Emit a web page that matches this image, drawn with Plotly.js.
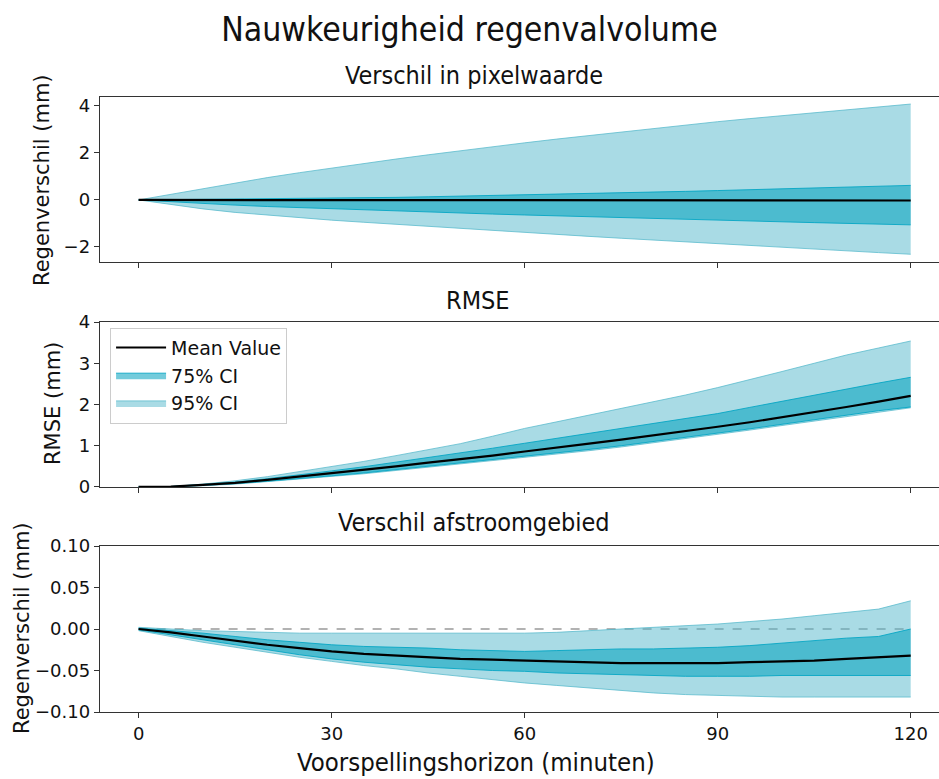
<!DOCTYPE html>
<html><head><meta charset="utf-8">
<script src="https://cdn.plot.ly/plotly-3.0.1.min.js"></script>
<style>body{margin:0;padding:0;overflow:hidden;background:#fff}</style>
</head><body><div id="chart" style="width:939px;height:779px"></div>
<script>
const minutes = [0,5,10,15,20,25,30,35,40,45,50,55,60,65,70,75,80,85,90,95,100,105,110,115,120];

// Panel 1: Verschil in pixelwaarde
const pix_mean = [0,-0.001,-0.002,-0.003,-0.004,-0.005,-0.006,-0.007,-0.008,-0.009,-0.010,-0.011,-0.012,-0.013,-0.014,-0.015,-0.016,-0.017,-0.018,-0.019,-0.020,-0.021,-0.022,-0.023,-0.024];
const pix_hi95 = [0,0.24,0.48,0.72,0.95,1.16,1.36,1.55,1.74,1.92,2.1,2.27,2.43,2.59,2.74,2.9,3.04,3.19,3.33,3.46,3.59,3.72,3.84,3.96,4.08];
const pix_lo95 = [0,-0.2,-0.38,-0.53,-0.65,-0.76,-0.86,-0.95,-1.04,-1.13,-1.22,-1.3,-1.38,-1.47,-1.55,-1.63,-1.71,-1.79,-1.87,-1.95,-2.03,-2.1,-2.17,-2.24,-2.31];
const pix_hi75 = [0,0.01,0.02,0.03,0.04,0.055,0.07,0.09,0.11,0.135,0.16,0.185,0.21,0.24,0.27,0.3,0.33,0.365,0.4,0.435,0.47,0.51,0.55,0.585,0.62];
const pix_lo75 = [0,-0.08,-0.15,-0.22,-0.28,-0.33,-0.38,-0.425,-0.47,-0.515,-0.56,-0.6,-0.64,-0.68,-0.72,-0.755,-0.79,-0.825,-0.86,-0.895,-0.93,-0.965,-1.0,-1.03,-1.06];

// Panel 2: RMSE
const rmse_mean = [0,0.01,0.05,0.1,0.17,0.25,0.33,0.41,0.5,0.59,0.67,0.76,0.86,0.95,1.05,1.15,1.25,1.36,1.46,1.57,1.69,1.81,1.94,2.07,2.21];
const rmse_hi95 = [0,0.01,0.07,0.15,0.25,0.37,0.49,0.62,0.76,0.9,1.05,1.23,1.42,1.58,1.74,1.9,2.06,2.23,2.41,2.6,2.8,3.0,3.2,3.37,3.54];
const rmse_lo95 = [0,0,0.03,0.07,0.13,0.19,0.25,0.32,0.4,0.48,0.56,0.63,0.71,0.79,0.88,0.97,1.07,1.17,1.27,1.38,1.49,1.6,1.71,1.82,1.92];
const rmse_hi75 = [0,0.01,0.06,0.12,0.2,0.29,0.39,0.49,0.6,0.71,0.82,0.94,1.06,1.18,1.3,1.42,1.54,1.66,1.78,1.93,2.08,2.23,2.38,2.52,2.66];
const rmse_lo75 = [0,0.01,0.04,0.08,0.14,0.2,0.27,0.34,0.42,0.5,0.58,0.66,0.74,0.82,0.91,1.0,1.1,1.2,1.3,1.41,1.52,1.63,1.74,1.85,1.94];

// Panel 3: Verschil afstroomgebied
const afs_mean = [0,-0.004,-0.009,-0.014,-0.019,-0.023,-0.027,-0.030,-0.032,-0.034,-0.036,-0.037,-0.038,-0.039,-0.040,-0.041,-0.041,-0.041,-0.041,-0.040,-0.039,-0.038,-0.036,-0.034,-0.032];
const afs_hi95 = [0.002,0,-0.002,-0.003,-0.004,-0.005,-0.005,-0.005,-0.005,-0.005,-0.005,-0.005,-0.005,-0.004,-0.002,0,0.002,0.004,0.006,0.009,0.012,0.016,0.02,0.024,0.034];
const afs_lo95 = [-0.002,-0.009,-0.016,-0.022,-0.028,-0.034,-0.039,-0.044,-0.048,-0.053,-0.057,-0.061,-0.065,-0.068,-0.071,-0.074,-0.077,-0.079,-0.080,-0.081,-0.082,-0.082,-0.082,-0.082,-0.082];
const afs_hi75 = [0.001,-0.002,-0.005,-0.009,-0.013,-0.016,-0.019,-0.021,-0.022,-0.023,-0.025,-0.026,-0.027,-0.026,-0.025,-0.024,-0.024,-0.023,-0.022,-0.020,-0.017,-0.014,-0.011,-0.009,0.0];
const afs_lo75 = [-0.001,-0.007,-0.013,-0.019,-0.025,-0.031,-0.036,-0.040,-0.043,-0.046,-0.048,-0.050,-0.051,-0.053,-0.054,-0.055,-0.056,-0.057,-0.057,-0.057,-0.056,-0.056,-0.056,-0.056,-0.056];

const zeroLine = minutes.map(() => 0);

const C95 = 'rgba(84,184,203,0.5)', E95 = 'rgba(84,184,203,0.75)';
const C75 = 'rgba(0,160,190,0.55)', E75 = 'rgba(0,165,195,0.85)';
const FONT = 'DejaVu Sans';
const TFONT = 'DejaVu Sans Condensed, DejaVu Sans';

function band(lo, hi, ya, fill, edge, name, show, rank){
  return [
    {x:minutes, y:lo, xaxis:'x', yaxis:ya, mode:'lines', line:{color:edge,width:1}, showlegend:false, hoverinfo:'skip', legendgroup:name},
    {x:minutes, y:hi, xaxis:'x', yaxis:ya, mode:'lines', line:{color:edge,width:1}, fill:'tonexty', fillcolor:fill, name:name, showlegend:show, legendgroup:name, legendrank:rank}
  ];
}
function meanTrace(y, ya, show){
  return {x:minutes, y:y, xaxis:'x', yaxis:ya, mode:'lines', line:{color:'#000',width:2.2}, name:'Mean Value', showlegend:show, legendgroup:'mean', legendrank:1};
}

const traces = [
  ...band(pix_lo95, pix_hi95, 'y', C95, E95, '95% CI', false, 3),
  ...band(pix_lo75, pix_hi75, 'y', C75, E75, '75% CI', false, 2),
  meanTrace(pix_mean, 'y', false),
  ...band(rmse_lo95, rmse_hi95, 'y2', C95, E95, '95% CI', true, 3),
  ...band(rmse_lo75, rmse_hi75, 'y2', C75, E75, '75% CI', true, 2),
  meanTrace(rmse_mean, 'y2', true),
  {x:minutes, y:zeroLine, xaxis:'x', yaxis:'y3', mode:'lines', line:{color:'#999',width:1.6,dash:'dash'}, showlegend:false, hoverinfo:'skip'},
  ...band(afs_lo95, afs_hi95, 'y3', C95, E95, '95% CI', false, 3),
  ...band(afs_lo75, afs_hi75, 'y3', C75, E75, '75% CI', false, 2),
  meanTrace(afs_mean, 'y3', false),
];

const axCommon = {showline:true, linecolor:'#333', linewidth:1.3, mirror:true, ticks:'outside', ticklen:5, tickcolor:'#333', showgrid:false, zeroline:false, tickfont:{family:FONT,size:18,color:'#111'}};
const xTicks = [0,30,60,90,120];

const layout = {
  width:939, height:779,
  margin:{l:100, r:0, t:97, b:67},
  paper_bgcolor:'#fff', plot_bgcolor:'#fff',
  font:{family:FONT, color:'#111'},
  showlegend:true,
  legend:{x:0.012, y:0.625, xanchor:'left', yanchor:'top', bgcolor:'#fff', bordercolor:'#ccc', borderwidth:1, font:{family:FONT,size:19,color:'#111'}, traceorder:'grouped', tracegroupgap:0, itemwidth:50},
  title:{text:'Nauwkeurigheid regenvalvolume', font:{family:TFONT,size:33.5,color:'#111'}, x:0.5, xanchor:'center', y:0.962, yanchor:'middle'},
  xaxis:{...axCommon, range:[-6,124.4], tickvals:xTicks, ticktext:xTicks.map(String), anchor:'y3'},
  xaxis2:{...axCommon, range:[-6,124.4], tickvals:xTicks, showticklabels:false, anchor:'y', overlaying:'x'},
  xaxis3:{...axCommon, range:[-6,124.4], tickvals:xTicks, showticklabels:false, anchor:'y2', overlaying:'x'},
  yaxis:{...axCommon, domain:[0.7317,1], range:[-2.64,4.38], tickvals:[-2,0,2,4], ticktext:['\u22122','0','2','4'], anchor:'x'},
  yaxis2:{...axCommon, domain:[0.3659,0.6341], range:[0,4], tickvals:[0,1,2,3,4], anchor:'x'},
  yaxis3:{...axCommon, domain:[0,0.2699], range:[-0.1,0.1], tickvals:[-0.1,-0.05,0,0.05,0.1], ticktext:['\u22120.10','\u22120.05','0.00','0.05','0.10'], anchor:'x'},
  annotations:[
    {text:'Verschil in pixelwaarde', xref:'paper', yref:'paper', x:(474-100)/839, y:(712-76)/615, xanchor:'center', yanchor:'middle', showarrow:false, font:{family:TFONT,size:25,color:'#111'}},
    {text:'RMSE', xref:'paper', yref:'paper', x:(478-100)/839, y:(712-300)/615, xanchor:'center', yanchor:'middle', showarrow:false, font:{family:TFONT,size:25,color:'#111'}},
    {text:'Verschil afstroomgebied', xref:'paper', yref:'paper', x:(474-100)/839, y:(712-522)/615, xanchor:'center', yanchor:'middle', showarrow:false, font:{family:TFONT,size:25,color:'#111'}},
    {text:'Voorspellingshorizon (minuten)', xref:'paper', yref:'paper', x:(476-100)/839, y:(712-762)/615, xanchor:'center', yanchor:'middle', showarrow:false, font:{family:TFONT,size:25.5,color:'#111'}},
    {text:'Regenverschil (mm)', xref:'paper', yref:'paper', x:(42-100)/839, y:(712-180)/615, xanchor:'center', yanchor:'middle', textangle:-90, showarrow:false, font:{family:FONT,size:21,color:'#111'}},
    {text:'RMSE (mm)', xref:'paper', yref:'paper', x:(53-100)/839, y:(712-404)/615, xanchor:'center', yanchor:'middle', textangle:-90, showarrow:false, font:{family:FONT,size:21,color:'#111'}},
    {text:'Regenverschil (mm)', xref:'paper', yref:'paper', x:(22-100)/839, y:(712-628)/615, xanchor:'center', yanchor:'middle', textangle:-90, showarrow:false, font:{family:FONT,size:21,color:'#111'}}
  ]
};

traces.push({x:[0], y:[0], xaxis:'x2', yaxis:'y', mode:'markers', marker:{opacity:0}, showlegend:false, hoverinfo:'skip'});
traces.push({x:[0], y:[0], xaxis:'x3', yaxis:'y2', mode:'markers', marker:{opacity:0}, showlegend:false, hoverinfo:'skip'});

Plotly.newPlot('chart', traces, layout, {displayModeBar:false, staticPlot:true});
</script></body></html>
